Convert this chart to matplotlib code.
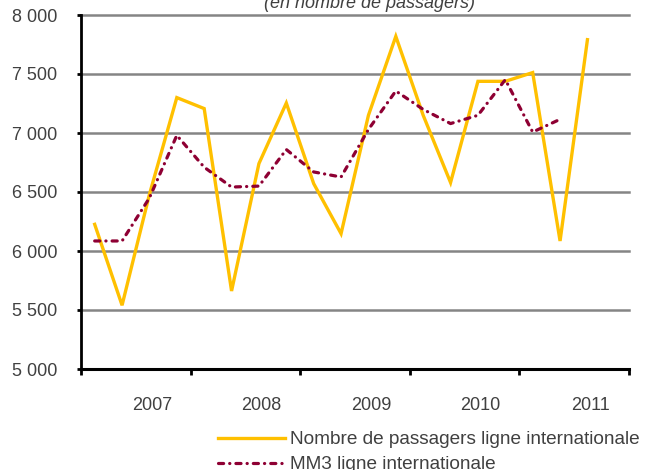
import numpy as np
import matplotlib
matplotlib.use("Agg")
import matplotlib.pyplot as plt

plt.rcParams['font.family'] = ['Liberation Sans', 'DejaVu Sans']

years = ['2007', '2008', '2009', '2010', '2011']
passagers = [6226, 5540, 6480, 7300, 7207, 5661, 6741, 7254, 6571, 6147,
             7150, 7819, 7150, 6580, 7438, 7438, 7512, 6085, 7791]
mm3 = [6085, 6085, 6450, 6980, 6710, 6542, 6550, 6860, 6670, 6627,
       7030, 7356, 7200, 7080, 7150, 7452, 7008, 7116]
yticks = [5000, 5500, 6000, 6500, 7000, 7500, 8000]
ytick_labels = ['5 000', '5 500', '6 000', '6 500', '7 000', '7 500', '8 000']
label_passagers = 'Nombre de passagers ligne internationale'
label_mm3 = 'MM3 ligne internationale'
subtitle = '(en nombre de passagers)'

W, H = 646, 470
fig = plt.figure(figsize=(W / 100, H / 100), dpi=100)
ax = fig.add_axes([81 / W, 1 - 369 / H, 547.5 / W, (369 - 15) / H])

x_p = np.arange(len(passagers)) + 0.5
x_m = np.arange(len(mm3)) + 0.5

text_col = '#404040'
l1, = ax.plot(x_p, passagers, color='#FFC000', lw=2.4, solid_joinstyle='miter', zorder=3)
l2, = ax.plot(x_m, mm3, color='#8E0033', lw=2.3, dashes=(1.6, 1.9, 0.05, 1.9),
              dash_capstyle='round', zorder=4)

ax.set_xlim(0, 4 * len(years))
ax.set_ylim(5000, 8000)
ax.set_yticks(yticks)
ax.set_yticklabels(ytick_labels)
ax.set_xticks(np.arange(0, 4 * len(years) + 1, 4))
ax.set_xticklabels([])
ax.set_xticks(np.arange(len(years)) * 4 + 2.6, minor=True)
ax.set_xticklabels(years, minor=True)

ax.tick_params(axis='y', direction='out', length=3, width=2, colors='black',
               labelcolor=text_col, labelsize=13, pad=14)
ax.tick_params(axis='x', which='major', direction='out', length=4, width=2, colors='black')
ax.tick_params(axis='x', which='minor', length=0, labelcolor=text_col, labelsize=13, pad=20)

ax.grid(axis='y', color='#858585', lw=1.8, zorder=1)
ax.set_axisbelow(True)
for gl in ax.get_ygridlines():
    gl.set_clip_on(False)

for s in ['top', 'right']:
    ax.spines[s].set_visible(False)
ax.spines['left'].set_linewidth(2)
ax.spines['bottom'].set_linewidth(2.2)
ax.spines['left'].set_zorder(5)
ax.spines['bottom'].set_zorder(5)

fig.text(370 / W, 1 - 7.5 / H, subtitle, style='italic', ha='center', va='baseline',
         fontsize=13, color=text_col)

fig.legend([l1, l2], [label_passagers, label_mm3], loc='upper left',
           bbox_to_anchor=(218 / W, 1 - 431 / H), frameon=False, handlelength=3.5,
           handletextpad=0.3, labelspacing=0.4, borderpad=0, borderaxespad=0,
           fontsize=13.7, labelcolor=text_col)

fig.savefig('out.png', dpi=100)
